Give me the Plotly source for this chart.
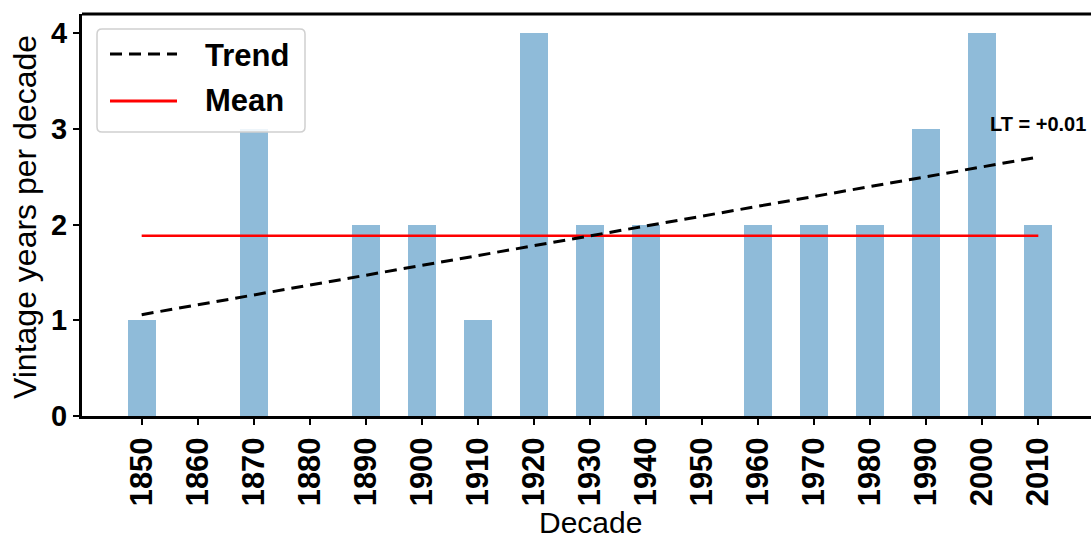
import numpy as np
import plotly.graph_objects as go

# Vintage years counted per decade
decades = [1850, 1860, 1870, 1880, 1890, 1900, 1910, 1920, 1930,
           1940, 1950, 1960, 1970, 1980, 1990, 2000, 2010]
vintage_counts = [1, 0, 3, 0, 2, 2, 1, 4, 2, 2, 0, 2, 2, 2, 3, 4, 2]
y_ticks = [0, 1, 2, 3, 4]
tick_labels = [str(d) for d in decades]

x = np.array(decades, dtype=float)
y = np.array(vintage_counts, dtype=float)
slope, intercept = np.polyfit(x, y, 1)
trend = slope * x + intercept
mean_val = y.mean()

W, H = 1091, 538
ML, MR, MT, MB = 82, 0, 14, 122
PW, PH = W - ML - MR, H - MT - MB
FONT = "Liberation Sans, Arial, sans-serif"


def px(xp):
    return (xp - ML) / PW


def py(yp):
    return (H - MB - yp) / PH


fig = go.Figure()
fig.add_trace(go.Bar(
    x=decades, y=vintage_counts, width=5,
    marker=dict(color="rgba(31,119,180,0.5)", line=dict(width=0)),
    showlegend=False,
))
fig.add_trace(go.Scatter(
    x=decades, y=[mean_val] * len(decades), mode="lines",
    line=dict(color="#ff0000", width=2.5), showlegend=False,
))
fig.add_trace(go.Scatter(
    x=decades, y=trend, mode="lines",
    line=dict(color="black", width=3, dash="12px,7px"), showlegend=False,
))

# rounded legend frame
x0, x1 = px(97), px(305)
y0, y1 = py(132), py(29)
r = 5
rx, ry = r / PW, r / PH
frame = (f"M{x0+rx},{y0} L{x1-rx},{y0} Q{x1},{y0} {x1},{y0+ry} "
         f"L{x1},{y1-ry} Q{x1},{y1} {x1-rx},{y1} L{x0+rx},{y1} "
         f"Q{x0},{y1} {x0},{y1-ry} L{x0},{y0+ry} Q{x0},{y0} {x0+rx},{y0} Z")
shapes = [
    dict(type="path", path=frame, xref="paper", yref="paper",
         fillcolor="rgba(255,255,255,0.85)", line=dict(color="#d0d0d0", width=1.5),
         layer="above"),
    dict(type="line", xref="paper", yref="paper", x0=px(110), x1=px(177),
         y0=py(54), y1=py(54), line=dict(color="black", width=3, dash="12px,7px")),
    dict(type="line", xref="paper", yref="paper", x0=px(110), x1=px(177),
         y0=py(101), y1=py(101), line=dict(color="#ff0000", width=3)),
    # top spine
    dict(type="line", xref="paper", yref="paper", x0=0, x1=1, y0=1, y1=1,
         line=dict(color="black", width=3)),
]

annotations = [
    dict(text="Trend", x=px(203), y=py(55), xref="paper", yref="paper",
         xanchor="left", yanchor="middle", showarrow=False,
         font=dict(family=FONT, size=31, color="black", weight="bold")),
    dict(text="Mean", x=px(203), y=py(101), xref="paper", yref="paper",
         xanchor="left", yanchor="middle", showarrow=False,
         font=dict(family=FONT, size=31, color="black", weight="bold")),
    dict(text=f"LT = {slope:+.2f}", x=decades[-1], y=3.05, xref="x", yref="y",
         xanchor="center", yanchor="middle", showarrow=False,
         font=dict(family=FONT, size=20, color="black", weight="bold")),
    dict(text="Decade", x=px(590), y=py(522), xref="paper", yref="paper",
         xanchor="center", yanchor="middle", showarrow=False,
         font=dict(family=FONT, size=30, color="black")),
    dict(text="Vintage years per decade", x=px(25), y=py(217), xref="paper",
         yref="paper", xanchor="center", yanchor="middle", textangle=-90,
         showarrow=False, font=dict(family=FONT, size=32, color="black")),
]

fig.update_layout(
    width=W, height=H,
    margin=dict(l=ML, r=MR, t=MT, b=MB, pad=0),
    plot_bgcolor="white", paper_bgcolor="white",
    shapes=shapes, annotations=annotations,
    bargap=0,
)
fig.update_xaxes(
    range=[1839.35, 2019.4], tickvals=decades, ticktext=tick_labels,
    tickangle=-90, ticks="outside", ticklen=6, tickwidth=1.5, tickcolor="black",
    showline=True, linecolor="black", linewidth=3, showgrid=False, zeroline=False,
    tickfont=dict(family=FONT, size=31, color="black", weight="bold"),
)
fig.update_yaxes(
    range=[0, 4.2], tickvals=y_ticks, ticks="outside", ticklen=6, tickwidth=1.5,
    tickcolor="black", showline=True, linecolor="black", linewidth=3,
    showgrid=False, zeroline=False,
    tickfont=dict(family=FONT, size=29, color="black", weight="bold"),
)

fig.write_html("out.html")
